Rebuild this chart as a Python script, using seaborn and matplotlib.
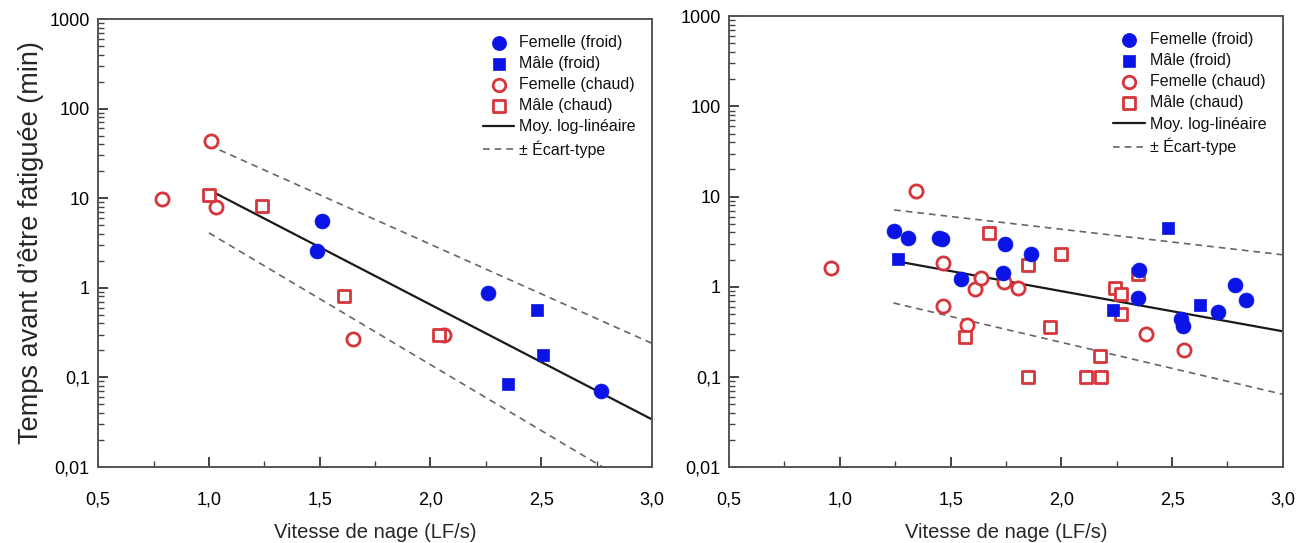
import numpy as np
import pandas as pd
import matplotlib
matplotlib.use("Agg")
import matplotlib.pyplot as plt
import seaborn as sns
from matplotlib.ticker import FixedLocator, LogLocator, NullFormatter

sns.set_theme(style="white")
plt.rcParams['font.family'] = ['Liberation Sans', 'DejaVu Sans']

# ---------------- Data: left panel ----------------
L_ff_x = [1.51, 1.49, 2.26, 2.77]
L_ff_y = [5.6, 2.55, 0.88, 0.071]
L_mf_x = [2.48, 2.51, 2.35]
L_mf_y = [0.56, 0.18, 0.085]
L_fc_x = [0.79, 1.01, 1.03, 1.65, 2.06]
L_fc_y = [9.7, 43, 8.0, 0.27, 0.30]
L_mc_x = [1.00, 1.24, 1.61, 2.04]
L_mc_y = [10.9, 8.1, 0.82, 0.30]
L_mean_x = [1.0, 3.0]
L_mean_y = [12.4, 0.034]
L_up_x = [1.0, 3.0]
L_up_y = [39, 0.24]
L_lo_x = [1.0, 3.0]
L_lo_y = [4.1, 0.0047]

# ---------------- Data: right panel ----------------
R_ff_x = [1.245, 1.306, 1.447, 1.46, 1.549, 1.744, 1.735, 1.862, 2.351, 2.346, 2.541, 2.55, 2.706, 2.782, 2.835]
R_ff_y = [4.2, 3.5, 3.5, 3.4, 1.21, 2.95, 1.42, 2.3, 1.54, 0.74, 0.44, 0.37, 0.53, 1.04, 0.72]
R_mf_x = [1.261, 2.482, 2.232, 2.626]
R_mf_y = [2.02, 4.5, 0.55, 0.63]
R_fc_x = [0.961, 1.342, 1.467, 1.467, 1.575, 1.608, 1.638, 1.742, 1.803, 2.38, 2.552]
R_fc_y = [1.62, 11.6, 1.82, 0.61, 0.38, 0.95, 1.24, 1.14, 0.97, 0.30, 0.20]
R_mc_x = [1.672, 2.0, 1.849, 1.564, 1.947, 1.849, 2.11, 2.179, 2.175, 2.243, 2.27, 2.27, 2.346]
R_mc_y = [3.9, 2.3, 1.73, 0.28, 0.36, 0.10, 0.10, 0.10, 0.17, 0.96, 0.83, 0.50, 1.38]
R_mean_x = [1.264, 3.0]
R_mean_y = [1.9, 0.32]
R_up_x = [1.245, 3.0]
R_up_y = [7.1, 2.26]
R_lo_x = [1.242, 3.0]
R_lo_y = [0.66, 0.064]

labels = ["Femelle (froid)", "Mâle (froid)", "Femelle (chaud)", "Mâle (chaud)",
          "Moy. log-linéaire", "± Écart-type"]
x_ticks = [0.5, 1.0, 1.5, 2.0, 2.5, 3.0]
y_ticks = [0.01, 0.1, 1, 10, 100, 1000]
y_ticklabels = ["0,01", "0,1", "1", "10", "100", "1000"]

BLUE = "#0a14e6"
RED = "#d6353b"
SPINE = "#555555"

fig = plt.figure(figsize=(13.09, 5.43), dpi=100)
axL = fig.add_axes([0.075, 0.14, 0.423, 0.825])
axR = fig.add_axes([0.557, 0.14, 0.423, 0.830])


def draw(ax, ff, mf, fc, mc, mean, up, lo, show_ylabel):
    sns.scatterplot(x=ff[0], y=ff[1], ax=ax, color=BLUE, marker='o', s=115,
                    edgecolor=BLUE, linewidth=0.5, label=labels[0], zorder=4)
    sns.scatterplot(x=mf[0], y=mf[1], ax=ax, color=BLUE, marker='s', s=85,
                    edgecolor=BLUE, linewidth=0.5, label=labels[1], zorder=4)
    sns.scatterplot(x=fc[0], y=fc[1], ax=ax, marker='o', s=90, facecolor='white',
                    edgecolor=RED, linewidth=2.0, label=labels[2], zorder=3)
    sns.scatterplot(x=mc[0], y=mc[1], ax=ax, marker='s', s=78, facecolor='white',
                    edgecolor=RED, linewidth=2.0, label=labels[3], zorder=3)
    sns.lineplot(x=mean[0], y=mean[1], ax=ax, color='#1a1a1a', linewidth=1.6,
                 label=labels[4], zorder=2)
    sns.lineplot(x=up[0], y=up[1], ax=ax, color='#666666', linewidth=1.2,
                 linestyle=(0, (4, 3)), label=labels[5], zorder=2)
    sns.lineplot(x=lo[0], y=lo[1], ax=ax, color='#666666', linewidth=1.2,
                 linestyle=(0, (4, 3)), zorder=2)
    ax.set_yscale('log')
    ax.set_xlim(0.5, 3.0)
    ax.set_ylim(0.01, 1000)
    ax.set_xticks(x_ticks)
    ax.set_xticklabels([f"{v:.1f}".replace('.', ',') for v in x_ticks])
    ax.xaxis.set_minor_locator(FixedLocator([0.75, 1.25, 1.75, 2.25, 2.75]))
    ax.set_yticks(y_ticks)
    ax.set_yticklabels(y_ticklabels)
    ax.yaxis.set_minor_locator(LogLocator(base=10, subs=np.arange(2, 10)))
    ax.yaxis.set_minor_formatter(NullFormatter())
    ax.tick_params(axis='both', which='both', bottom=True, left=True,
                   top=False, right=False)
    ax.tick_params(axis='both', which='major', direction='in', length=7, width=1.3,
                   color='#333333', labelsize=13, labelcolor='black')
    ax.tick_params(axis='x', which='major', pad=18)
    ax.tick_params(axis='y', which='major', pad=6)
    ax.tick_params(axis='both', which='minor', direction='in', length=4, width=1.0,
                   color='#444444')
    for sp in ax.spines.values():
        sp.set_color(SPINE)
        sp.set_linewidth(1.4)
    ax.set_xlabel("Vitesse de nage (LF/s)", fontsize=14.5, labelpad=10)
    if show_ylabel:
        ax.set_ylabel("Temps avant d’être fatiguée (min)", fontsize=19.5, labelpad=4)
    else:
        ax.set_ylabel("")
    leg = ax.legend(loc='upper right', frameon=False, fontsize=11.5, handlelength=2.0,
                    handletextpad=0.3, labelspacing=0.38, borderaxespad=0.6,
                    markerscale=0.95)
    for t in leg.get_texts():
        t.set_color('#111111')


draw(axL, (L_ff_x, L_ff_y), (L_mf_x, L_mf_y), (L_fc_x, L_fc_y), (L_mc_x, L_mc_y),
     (L_mean_x, L_mean_y), (L_up_x, L_up_y), (L_lo_x, L_lo_y), True)
draw(axR, (R_ff_x, R_ff_y), (R_mf_x, R_mf_y), (R_fc_x, R_fc_y), (R_mc_x, R_mc_y),
     (R_mean_x, R_mean_y), (R_up_x, R_up_y), (R_lo_x, R_lo_y), False)

fig.savefig("out.png", dpi=100)
